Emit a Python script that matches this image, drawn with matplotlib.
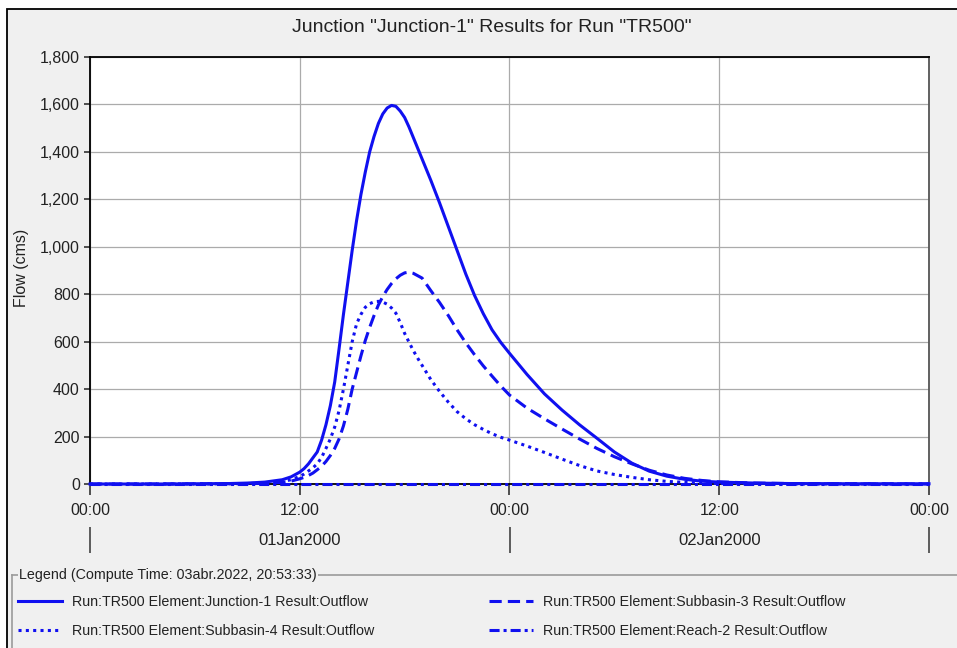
import matplotlib
matplotlib.use('Agg')
import matplotlib.pyplot as plt
from matplotlib.lines import Line2D
from matplotlib.patches import Rectangle
from matplotlib.ticker import FuncFormatter

plt.rcParams['font.family'] = ['Liberation Sans', 'DejaVu Sans']

# time in hours from 01Jan2000 00:00
hours = [0, 4, 8, 9, 10, 11, 11.5,
         12, 12.25, 12.5, 12.75, 13, 13.25, 13.5, 13.75, 14, 14.25,
         14.5, 14.75, 15, 15.25, 15.5, 15.75, 16, 16.25, 16.5, 16.75,
         17, 17.25, 17.5, 17.75, 18, 18.25, 18.5, 18.75, 19,
         19.5, 20, 20.5, 21, 21.5, 22, 22.5, 23, 23.5,
         24, 25, 26, 27, 28, 29, 30, 31, 32, 33, 34, 35, 36,
         38, 40, 44, 48]
junction1 = [0, 0, 2, 4, 8, 18, 30,
             50, 65, 85, 110, 135, 185, 250, 330, 430, 570,
             715, 850, 985, 1110, 1220, 1315, 1400, 1465, 1520, 1560,
             1585, 1596, 1592, 1572, 1545, 1505, 1460, 1415, 1370,
             1280, 1185, 1085, 985, 885, 795, 718, 650, 597,
             551, 462, 380, 312, 250, 193, 135, 88, 54, 33, 20, 12, 8,
             4, 2, 1, 1]
subbasin3 = [0, 0, 1, 2, 3, 7, 12,
             22, 28, 36, 46, 60, 75, 95, 120, 150, 190,
             245, 315, 400, 470, 540, 605, 660, 710, 755, 790,
             820, 845, 865, 880, 890, 893, 888, 878, 868,
             815, 765, 710, 650, 595, 545, 498, 455, 413,
             375, 320, 275, 232, 190, 150, 115, 85, 58, 38, 24, 15, 9,
             4, 2, 1, 0]
subbasin4 = [0, 0, 1, 2, 4, 10, 18,
             32, 42, 55, 68, 85, 112, 150, 190, 240, 310,
             400, 500, 600, 675, 715, 745, 760, 768, 770, 767,
             758, 742, 720, 680, 635, 598, 562, 530, 500,
             440, 390, 345, 305, 275, 250, 230, 212, 197,
             185, 160, 133, 105, 78, 55, 40, 28, 18, 11, 7, 4, 2,
             1, 0, 0, 0]
reach2 = [0, 0, 0, 0, 0, 0, 0,
          0, 0, 0, 0, 0, 0, 0, 0, 0, 0,
          0, 0, 0, 0, 0, 0, 0, 0, 0, 0,
          0, 0, 0, 0, 0, 0, 0, 0, 0,
          0, 0, 0, 0, 0, 0, 0, 0, 0,
          0, 0, 0, 0, 0, 0, 0, 0, 0, 0, 0, 0, 0,
          0, 0, 0, 0]

time_ticks = [0, 12, 24, 36, 48]
time_labels = ['00:00', '12:00', '00:00', '12:00', '00:00']
day_bounds = [0, 24, 48]
day_centers = [12, 36]
day_labels = ['01Jan2000', '02Jan2000']
flow_ticks = [0, 200, 400, 600, 800, 1000, 1200, 1400, 1600, 1800]

series_labels = ['Run:TR500 Element:Junction-1 Result:Outflow',
                 'Run:TR500 Element:Subbasin-3 Result:Outflow',
                 'Run:TR500 Element:Subbasin-4 Result:Outflow',
                 'Run:TR500 Element:Reach-2 Result:Outflow']

W, H = 957, 648
blue = '#1010f0'
bg = '#f0f0f0'
txt = '#222222'

fig = plt.figure(figsize=(W / 100, H / 100), dpi=100)
fig.patch.set_facecolor('white')
# panel frame
fig.add_artist(Rectangle((7 / W, -0.01), 1.0, 1 - 9 / H + 0.01, transform=fig.transFigure,
                         facecolor=bg, edgecolor='black', lw=1.3, zorder=0))

ax = fig.add_axes([90 / W, 1 - 484 / H, (929 - 90) / W, (484 - 57) / H])
ax.set_facecolor('white')

l1, = ax.plot(hours, junction1, color=blue, lw=2.2, clip_on=False, zorder=4)
l3, = ax.plot(hours, subbasin3, color=blue, lw=2.2, dashes=(4, 2), clip_on=False, zorder=3)
l4, = ax.plot(hours, subbasin4, color=blue, lw=2.2, dashes=(1, 1.4), clip_on=False, zorder=3)
l2, = ax.plot(hours, reach2, color=blue, lw=2.2, dashes=(3.3, 1.3, 1, 1.3), clip_on=False, zorder=3)

ax.set_xlim(0, 48)
ax.set_ylim(0, 1800)
ax.set_xticks(time_ticks)
ax.set_xticklabels(time_labels)
ax.set_yticks(flow_ticks)
ax.yaxis.set_major_formatter(FuncFormatter(lambda v, p: '{:,.0f}'.format(v)))
ax.grid(True, color='#ababab', lw=0.9)
ax.set_axisbelow(True)
ax.tick_params(axis='y', length=4.3, width=1.1, pad=3, labelsize=11.5, colors=txt)
ax.tick_params(axis='x', length=8, width=1.1, pad=6, labelsize=11.5, colors=txt)
for s in ['top', 'left', 'bottom']:
    ax.spines[s].set_color('black')
    ax.spines[s].set_linewidth(1.3)
ax.spines['right'].set_color('#555555')
ax.spines['right'].set_linewidth(1.3)

# day axis below the time axis
sec = ax.secondary_xaxis(-43 / 427)
sec.set_xticks(day_bounds)
sec.set_xticklabels(['', '', ''])
sec.set_xticks(day_centers, labels=day_labels, minor=True)
sec.tick_params(which='major', length=18.7, width=1.1, direction='out', color='#333333')
sec.tick_params(which='minor', length=0, pad=4.2, labelsize=12, labelcolor=txt)
sec.spines['bottom'].set_visible(False)

fig.text(492 / W, 1 - 27 / H, 'Junction "Junction-1" Results for Run "TR500"',
         ha='center', va='center', fontsize=14, color=txt)
fig.text(22 / W, 1 - 268 / H, 'Flow (cms)', rotation=90, ha='center', va='center',
         fontsize=11.5, color=txt)

# legend group box
gy = 1 - 575 / H
fig.add_artist(Line2D([12 / W, 1.0], [gy, gy], transform=fig.transFigure, color='#9a9a9a', lw=1.2))
fig.add_artist(Line2D([12 / W, 12 / W], [gy, -0.01], transform=fig.transFigure, color='#9a9a9a', lw=1.2))
fig.text(19 / W, gy, 'Legend (Compute Time: 03abr.2022, 20:53:33)', ha='left', va='center',
         fontsize=10.3, color=txt,
         bbox=dict(facecolor=bg, edgecolor='none', pad=1))

fig.legend([l1, l4, l3, l2], [series_labels[0], series_labels[2], series_labels[1], series_labels[3]],
           loc='upper left', bbox_to_anchor=(18 / W, 1 - 595 / H), ncol=2, frameon=False,
           borderpad=0, borderaxespad=0, handlelength=3.08, handletextpad=0.7,
           columnspacing=8.0, labelspacing=1.02, fontsize=10.3, labelcolor=txt)

fig.savefig('out.png', dpi=100, facecolor=fig.get_facecolor())
